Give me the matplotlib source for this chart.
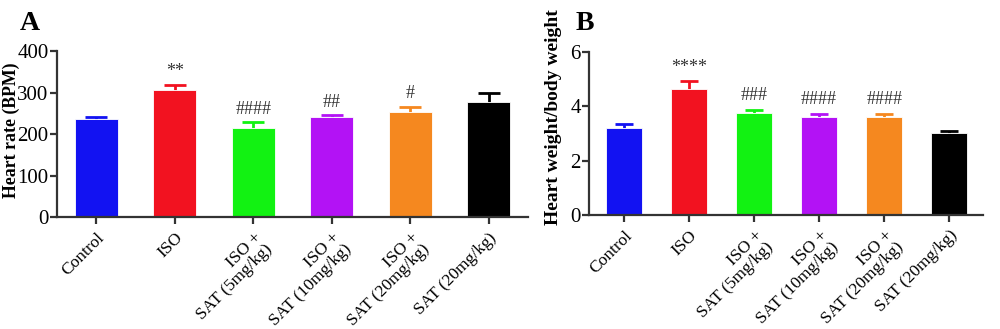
import matplotlib.pyplot as plt
import numpy as np

plt.rcParams['font.family'] = ['Liberation Serif', 'DejaVu Serif']

groups = ['Control', 'ISO', 'ISO +\nSAT (5mg/kg)', 'ISO +\nSAT (10mg/kg)',
          'ISO +\nSAT (20mg/kg)', 'SAT (20mg/kg)']
colors = ['#1212f2', '#f21220', '#12f212', '#b312f5', '#f5881f', '#000000']

hr_mean = [236, 306, 215, 242, 252, 278]
hr_err = [5, 13, 13, 4, 14, 22]
hr_marks = ['', '**', '####', '##', '#', '']

hw_mean = [3.21, 4.65, 3.77, 3.62, 3.62, 3.00]
hw_err = [0.13, 0.27, 0.11, 0.10, 0.10, 0.09]
hw_marks = ['', '****', '###', '####', '####', '']

fig = plt.figure(figsize=(10, 3.29), dpi=100)
axA = fig.add_axes([0.057, 0.340, 0.471, 0.505])
axB = fig.add_axes([0.589, 0.3465, 0.394, 0.4955])


def draw(ax, mean, err, marks, ymax, yticks, ylabel, mark_gap, ylsize, lab_xy):
    x = np.arange(len(mean))
    for i in x:
        ax.bar(i, mean[i], width=0.55, color=colors[i],
               edgecolor='#ffffff', linewidth=0.6, zorder=2)
        # upper error bar only
        ax.vlines(i, mean[i], mean[i] + err[i], colors=colors[i],
                  linewidth=2, zorder=1)
        ax.hlines(mean[i] + err[i], i - 0.14, i + 0.14, colors=colors[i],
                  linewidth=2, zorder=1)
        if marks[i]:
            ax.text(i, mean[i] + err[i] + mark_gap, marks[i], ha='center',
                    va='bottom', fontsize=13, color='#333333')
    ax.set_xlim(-0.5, len(mean) - 0.5)
    ax.set_ylim(0, ymax)
    ax.set_yticks(yticks)
    ax.set_xticks(x)
    ax.set_xticklabels(groups, rotation=45, ha='right', rotation_mode='anchor',
                       fontsize=12.5, linespacing=1.0)
    ax.set_ylabel(ylabel, fontsize=ylsize, fontweight='bold')
    ax.yaxis.set_label_coords(*lab_xy)
    for s in ['top', 'right']:
        ax.spines[s].set_visible(False)
    for s in ['left', 'bottom']:
        ax.spines[s].set_linewidth(1.6)
        ax.spines[s].set_color('#333333')
    ax.tick_params(axis='both', width=1.6, color='#333333', length=5)
    ax.tick_params(axis='y', labelsize=15, pad=1)
    ax.tick_params(axis='x', pad=4)


draw(axA, hr_mean, hr_err, hr_marks, 400, [0, 100, 200, 300, 400],
     'Heart rate (BPM)', 10, 12.8, (-0.079, 0.52))
draw(axB, hw_mean, hw_err, hw_marks, 6, [0, 2, 4, 6],
     'Heart weight/body weight', 0.2, 14, (-0.069, 0.60))
axB.set_xlim(-0.54, 5.52)

fig.text(0.020, 0.93, 'A', fontsize=20, fontweight='bold', va='center')
fig.text(0.576, 0.93, 'B', fontsize=20, fontweight='bold', va='center')

fig.savefig('out.png', dpi=100)
